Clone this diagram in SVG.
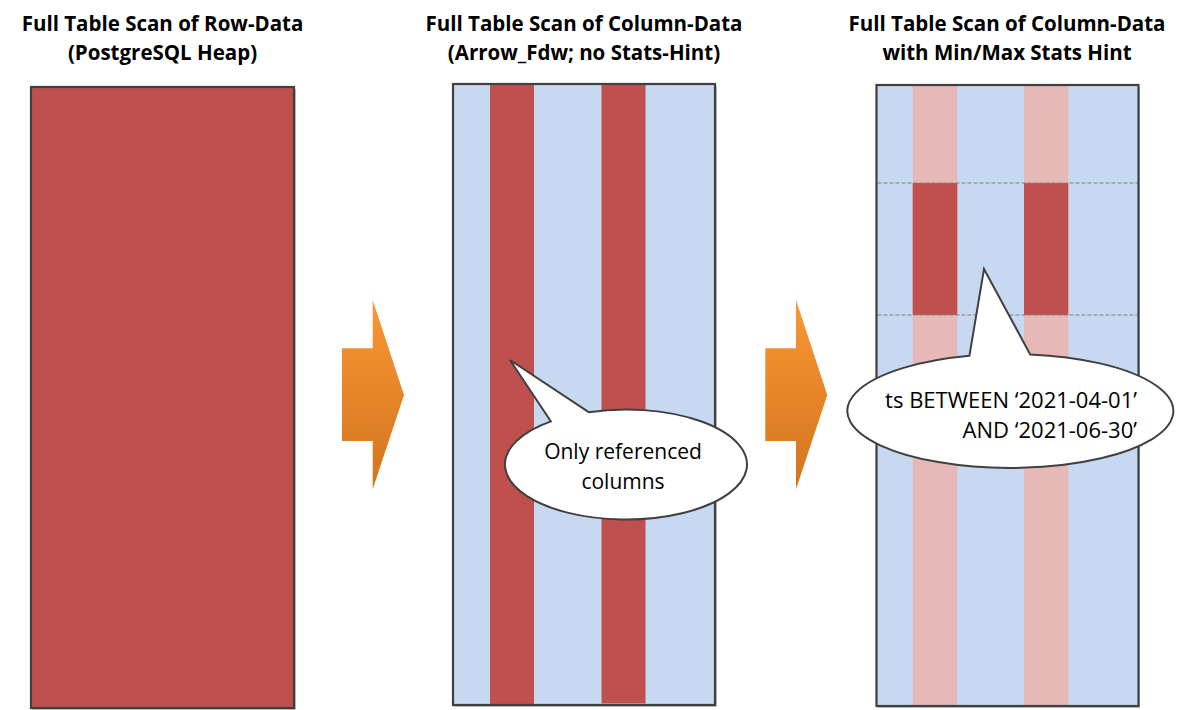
<svg xmlns="http://www.w3.org/2000/svg" width="1200" height="710" viewBox="0 0 1200 710">
<defs>
<linearGradient id="orange" x1="0" y1="0" x2="0" y2="1">
<stop offset="0" stop-color="#F99733"/>
<stop offset="1" stop-color="#D3741E"/>
</linearGradient>
<style>
.title{font-family:"Open Sans","Liberation Sans",sans-serif;font-weight:bold;font-size:20.5px;fill:#000;text-anchor:middle}
.btxt{font-family:"Open Sans","Liberation Sans",sans-serif;font-size:21px;fill:#000}
.btxt2{font-family:"Open Sans","Liberation Sans",sans-serif;font-size:22px;fill:#000;text-anchor:end}
.frame{fill:none;stroke:#404040;stroke-width:2.2}
.shadow{fill:#9a9a9a;opacity:0.6}
.red{fill:#C0504D}
.blue{fill:#C6D9F1}
.pink{fill:#E6B8B7}
.dash{stroke:#808080;stroke-width:1.2;stroke-dasharray:4 2;fill:none}
.bubble{fill:#fff;stroke:#404040;stroke-width:2;stroke-linejoin:miter}
.arrow{fill:url(#orange)}
</style>
</defs>
<rect width="1200" height="710" fill="#fff"/>

<g id="title1">
<text class="title" x="162.5" y="30.5">Full Table Scan of Row-Data</text>
<text class="title" x="162.5" y="60">(PostgreSQL Heap)</text>
</g>
<g id="title2">
<text class="title" x="584" y="30.5">Full Table Scan of Column-Data</text>
<text class="title" x="584" y="60">(Arrow_Fdw; no Stats-Hint)</text>
</g>
<g id="title3">
<text class="title" x="1007" y="30.5">Full Table Scan of Column-Data</text>
<text class="title" x="1007" y="60">with Min/Max Stats Hint</text>
</g>

<g id="panel1">
<rect class="shadow" x="32" y="89" width="264" height="621"/>
<rect class="red" x="31" y="87" width="263" height="621"/>
<rect class="frame" x="31" y="87" width="263" height="621"/>
</g>

<g id="panel2">
<rect class="shadow" x="454" y="86" width="263" height="621"/>
<rect class="blue" x="453" y="84" width="262" height="621"/>
<rect class="red" x="490" y="84" width="44" height="621"/>
<rect class="red" x="601.5" y="84" width="44" height="619.5"/>
<rect class="frame" x="453" y="84" width="262" height="621"/>
</g>

<g id="panel3">
<rect class="shadow" x="877" y="87" width="263" height="621"/>
<rect class="blue" x="876.5" y="85" width="262" height="621"/>
<rect class="pink" x="912.7" y="85" width="44.6" height="621"/>
<rect class="pink" x="1024" y="85" width="44.3" height="621"/>
<rect class="red" x="912.7" y="183" width="44.6" height="132"/>
<rect class="red" x="1024" y="183" width="44.3" height="132"/>
<line class="dash" x1="877.5" y1="183" x2="1137.5" y2="183"/>
<line class="dash" x1="877.5" y1="315" x2="1137.5" y2="315"/>
<rect class="frame" x="876.5" y="85" width="262" height="621"/>
</g>

<g id="connectors">
<polygon id="arrow1" class="arrow" points="342,348.3 372.7,348.3 372.7,300 404,395 372.7,489.3 372.7,441 342,441"/>
<polygon id="arrow2" class="arrow" points="765.3,348.3 796,348.3 796,300 827.3,395 796,489.3 796,441 765.3,441"/>
</g>

<g id="bubble1">
<path class="bubble" d="M 588.7,412.2 L 510,360 L 550.9,421.4 A 121 55 0 1 0 588.7,412.2 Z"/>
<text class="btxt" x="623" y="459.3" text-anchor="middle">Only referenced</text>
<text class="btxt" x="623" y="489.3" text-anchor="middle">columns</text>
</g>

<g id="bubble2">
<path class="bubble" d="M 1030.2,354.4 L 984,269 L 969.4,355.8 A 163 57 0 1 0 1030.2,354.4 Z"/>
<text class="btxt2" x="1137" y="408">ts BETWEEN ‘2021-04-01’</text>
<text class="btxt2" x="1137" y="438">AND ‘2021-06-30’</text>
</g>
</svg>
